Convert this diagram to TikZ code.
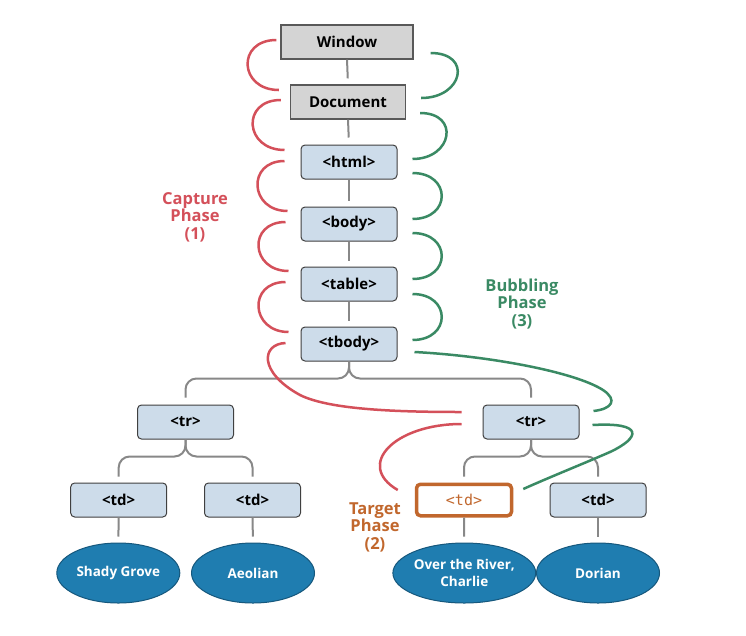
\documentclass[tikz,border=0pt]{standalone}
\usepackage{fontspec}
\setmainfont{Open Sans}
\newfontfamily\monofont{DejaVu Sans Mono}
\usetikzlibrary{shapes.geometric,calc}
\definecolor{capred}{RGB}{212,80,90}
\definecolor{bubgreen}{RGB}{58,138,100}
\definecolor{tgtorange}{RGB}{193,103,45}
\definecolor{boxblue}{RGB}{205,220,234}
\definecolor{boxgray}{RGB}{212,212,212}
\definecolor{ellblue}{RGB}{31,125,176}
\definecolor{ellborder}{RGB}{22,88,125}
\definecolor{treegray}{RGB}{136,136,136}
\begin{document}
\begin{tikzpicture}[x=1pt,y=-1pt,
  boxfont/.style={font=\bfseries\fontsize{15}{17}\selectfont},
  graybox/.style={draw=black!65,fill=boxgray,line width=1.3pt,minimum width=#1,minimum height=34pt,inner sep=0pt,boxfont},
  bluebox/.style={draw=black!75,fill=boxblue,line width=1pt,rounded corners=4pt,minimum width=96pt,minimum height=34pt,inner sep=0pt,boxfont},
  leaf/.style={ellipse,draw=ellborder,fill=ellblue,line width=1pt,minimum width=123pt,minimum height=60pt,inner sep=0pt,text=white,align=center,font=\bfseries\fontsize{13.5}{17}\selectfont},
  target/.style={draw=tgtorange,line width=3.5pt,fill=white,rounded corners=4pt,minimum width=95pt,minimum height=31.5pt,inner sep=0pt,text=tgtorange,font=\monofont\fontsize{15}{17}\selectfont},
  tree/.style={draw=treegray,line width=2pt,rounded corners=11pt},
  capture/.style={draw=capred,line width=2.5pt},
  bubble/.style={draw=bubgreen,line width=2.5pt},
  phase/.style={align=center,font=\bfseries\fontsize{16.5}{17.5}\selectfont}
]
\fill[white] (0,0) rectangle (746,635);
\useasboundingbox (0,0) rectangle (746,635);

% nodes
\node[graybox=132pt] (win) at (347,42) {Window};
\node[graybox=115pt] (doc) at (348,102) {Document};
\node[bluebox] (html) at (349,162) {<html>};
\node[bluebox] (body) at (349,224) {<body>};
\node[bluebox] (table) at (349,284) {<table>};
\node[bluebox] (tbody) at (349,344) {<tbody>};
\node[bluebox] (trL) at (185.5,422) {<tr>};
\node[bluebox] (trR) at (531,422) {<tr>};
\node[bluebox] (td1) at (118.7,500) {<td>};
\node[bluebox] (td2) at (252.5,500) {<td>};
\node[target] (tdT) at (464,500) {<td>};
\node[bluebox] (td4) at (598,500) {<td>};
\node[leaf] (e1) at (118.3,573) {Shady Grove};
\node[leaf] (e2) at (253,573) {Aeolian};
\node[leaf] (e3) at (464.3,573) {Over the River,\\Charlie};
\node[leaf] (e4) at (598,573) {Dorian};

% tree connectors
\draw[tree,shorten >=6pt] (win.south) -- (doc.north);
\draw[tree,shorten >=7pt] (doc.south) -- (html.north);
\draw[tree,shorten >=6pt] (html.south) -- (body.north);
\draw[tree,shorten >=6pt] (body.south) -- (table.north);
\draw[tree,shorten >=6pt] (table.south) -- (tbody.north);
\draw[tree,shorten >=7pt] (tbody.south) -- ++(0,17) -| (trL.north);
\draw[tree,shorten >=7pt] (tbody.south) -- ++(0,17) -| (trR.north);
\draw[tree,shorten >=6pt] (trL.south) -- ++(0,17) -| (td1.north);
\draw[tree,shorten >=6pt] (trL.south) -- ++(0,17) -| (td2.north);
\draw[tree,shorten >=6pt] (trR.south) -- ++(0,17) -| (tdT.north);
\draw[tree,shorten >=6pt] (trR.south) -- ++(0,17) -| (td4.north);
\draw[tree,shorten >=6pt] (td1.south) -- (e1.north);
\draw[tree,shorten >=6pt] (td2.south) -- (e2.north);
\draw[tree,shorten >=6pt] (tdT.south) -- (e3.north);
\draw[tree,shorten >=6pt] (td4.south) -- (e4.north);

% capture phase (red)
\draw[capture] ($(win.west)+(-4,-2)$) .. controls +(-40,0) and +(-40,0) .. ($(doc.west)+(-11,-12)$);
\draw[capture] ($(doc.west)+(-9,-2)$) .. controls +(-40,0) and +(-40,0) .. ($(html.west)+(-16,-12)$);
\draw[capture] ($(html.west)+(-16,-1)$) .. controls +(-38,0) and +(-38,0) .. ($(body.west)+(-13,-13)$);
\draw[capture] ($(body.west)+(-15,-2)$) .. controls +(-38,0) and +(-38,0) .. ($(table.west)+(-12,-13)$);
\draw[capture] ($(table.west)+(-15,-2)$) .. controls +(-38,0) and +(-38,0) .. ($(tbody.west)+(-12,-12)$);
\draw[capture] ($(tbody.west)+(-15,-1)$) .. controls +(-24,1) and (258,372) .. (300,395)
   .. controls (330,410) and (400,412) .. ($(trR.west)+(-21,-10)$);
\draw[capture] ($(trR.west)+(-21,2)$) .. controls +(-67,0) and +(-43,-25) .. ($(tdT.west)+(-17,-10)$);

% bubbling phase (green)
\draw[bubble] ($(win.east)+(17,11)$) .. controls +(42,0) and +(42,0) .. ($(doc.east)+(15,-4)$);
\draw[bubble] ($(doc.east)+(14,11)$) .. controls +(40,0) and +(40,0) .. ($(html.east)+(15,-3)$);
\draw[bubble] ($(html.east)+(15,11)$) .. controls +(39,0) and +(39,0) .. ($(body.east)+(15,-5)$);
\draw[bubble] ($(body.east)+(15,9)$) .. controls +(39,0) and +(39,0) .. ($(table.east)+(15,-5)$);
\draw[bubble] ($(table.east)+(15,10)$) .. controls +(39,0) and +(39,0) .. ($(tbody.east)+(15,-4)$);
\draw[bubble] ($(tbody.east)+(17,8)$) .. controls (490,356) and (575,372) .. (603,390)
   .. controls (618,400) and (612,409) .. ($(trR.east)+(14,-11)$);
\draw[bubble] ($(trR.east)+(13,3)$) .. controls (645,422) and (640,438) .. (610,452)
   .. controls (585,463) and (550,477) .. ($(tdT.east)+(10,-11)$);

% phase labels
\node[phase,text=capred] (cap) at (195,217) {Capture\\Phase\\(1)};
\node[phase,text=bubgreen] (bub) at (522,304) {Bubbling\\Phase\\(3)};
\node[phase,text=tgtorange] (tgt) at (375,527) {Target\\Phase\\(2)};
\end{tikzpicture}
\end{document}
